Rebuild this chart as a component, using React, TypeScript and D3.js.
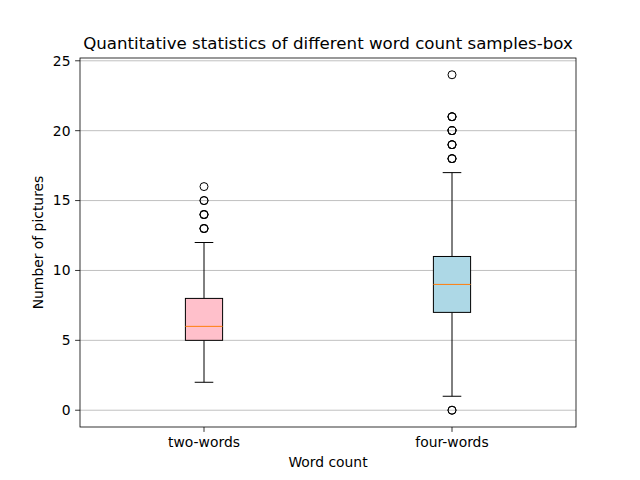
import React, { useRef, useEffect } from 'react';
import * as d3 from 'd3';

const categories = ['two-words', 'four-words'];
const fills = ['pink', 'lightblue'];
// [whiskerLow, q1, median, q3, whiskerHigh]
const boxStats = [
    [2, 5, 6, 8, 12],
    [1, 7, 9, 11, 17],
];
// outliers, repeated values drawn on top of each other
const outliers = [
    [13, 13, 13, 14, 14, 14, 15, 15, 16],
    [18, 18, 18, 19, 19, 19, 20, 20, 20, 21, 21, 21, 24, 0, 0],
];
const yTicks = [0, 5, 10, 15, 20, 25];

const App: React.FC = () => {
    const svgRef = useRef<SVGSVGElement>(null);

    const width = 640;
    const height = 480;
    const margin = { top: 58, right: 64, bottom: 53, left: 80 };

    useEffect(() => {
        if (!svgRef.current) return;
        const svg = d3.select(svgRef.current);
        svg.selectAll('*').remove();

        const innerWidth = width - margin.left - margin.right;
        const innerHeight = height - margin.top - margin.bottom;
        const font = 'DejaVu Sans, sans-serif';
        const fs = '13.89px';

        const xScale = d3.scaleLinear().domain([0.5, 2.5]).range([0, innerWidth]);
        const yScale = d3.scaleLinear().domain([-1.2, 25.2]).range([innerHeight, 0]);

        svg.append('rect').attr('width', width).attr('height', height).attr('fill', '#fff');

        const g = svg.append('g')
            .attr('transform', `translate(${margin.left},${margin.top})`);

        // grid lines
        yTicks.forEach(t => {
            g.append('line')
                .attr('x1', 0)
                .attr('x2', innerWidth)
                .attr('y1', yScale(t))
                .attr('y2', yScale(t))
                .attr('stroke', '#b0b0b0')
                .attr('stroke-width', 0.8);
        });

        const boxW = 0.15;
        const capW = boxW / 2;

        boxStats.forEach((s, i) => {
            const pos = i + 1;
            const [lo, q1, med, q3, hi] = s;
            const cx = xScale(pos);
            const bg = g.append('g');

            // whiskers
            [[lo, q1], [q3, hi]].forEach(([a, b]) => {
                bg.append('line')
                    .attr('x1', cx).attr('x2', cx)
                    .attr('y1', yScale(a)).attr('y2', yScale(b))
                    .attr('stroke', '#000').attr('stroke-width', 1);
            });
            // caps
            [lo, hi].forEach(v => {
                bg.append('line')
                    .attr('x1', xScale(pos - capW / 2)).attr('x2', xScale(pos + capW / 2))
                    .attr('y1', yScale(v)).attr('y2', yScale(v))
                    .attr('stroke', '#000').attr('stroke-width', 1);
            });
            // box
            bg.append('rect')
                .attr('x', xScale(pos - boxW / 2))
                .attr('y', yScale(q3))
                .attr('width', xScale(pos + boxW / 2) - xScale(pos - boxW / 2))
                .attr('height', yScale(q1) - yScale(q3))
                .attr('fill', fills[i])
                .attr('stroke', '#000')
                .attr('stroke-width', 1);
            // median
            bg.append('line')
                .attr('x1', xScale(pos - boxW / 2)).attr('x2', xScale(pos + boxW / 2))
                .attr('y1', yScale(med)).attr('y2', yScale(med))
                .attr('stroke', '#ff7f0e').attr('stroke-width', 1);
            // fliers
            outliers[i].forEach(v => {
                bg.append('circle')
                    .attr('cx', cx)
                    .attr('cy', yScale(v))
                    .attr('r', 4)
                    .attr('fill', 'none')
                    .attr('stroke', '#000')
                    .attr('stroke-width', 1);
            });
        });

        // spines
        g.append('rect')
            .attr('width', innerWidth)
            .attr('height', innerHeight)
            .attr('fill', 'none')
            .attr('stroke', '#000')
            .attr('stroke-width', 0.8);

        // y axis ticks
        yTicks.forEach(t => {
            g.append('line')
                .attr('x1', -4.9).attr('x2', 0)
                .attr('y1', yScale(t)).attr('y2', yScale(t))
                .attr('stroke', '#000').attr('stroke-width', 0.8);
            g.append('text')
                .attr('x', -9.5)
                .attr('y', yScale(t))
                .attr('dy', '0.35em')
                .attr('text-anchor', 'end')
                .attr('font-family', font)
                .attr('font-size', fs)
                .text(t);
        });

        // x axis ticks
        categories.forEach((c, i) => {
            const x = xScale(i + 1);
            g.append('line')
                .attr('x1', x).attr('x2', x)
                .attr('y1', innerHeight).attr('y2', innerHeight + 4.9)
                .attr('stroke', '#000').attr('stroke-width', 0.8);
            g.append('text')
                .attr('x', x)
                .attr('y', innerHeight + 20)
                .attr('text-anchor', 'middle')
                .attr('font-family', font)
                .attr('font-size', fs)
                .text(c);
        });

        // axis labels
        g.append('text')
            .attr('x', innerWidth / 2)
            .attr('y', innerHeight + 40)
            .attr('text-anchor', 'middle')
            .attr('font-family', font)
            .attr('font-size', fs)
            .text('Word count');

        g.append('text')
            .attr('transform', `translate(${-37},${innerHeight / 2}) rotate(-90)`)
            .attr('text-anchor', 'middle')
            .attr('font-family', font)
            .attr('font-size', fs)
            .text('Number of pictures');

        // title
        g.append('text')
            .attr('x', innerWidth / 2)
            .attr('y', -9)
            .attr('text-anchor', 'middle')
            .attr('font-family', font)
            .attr('font-size', '16.67px')
            .text('Quantitative statistics of different word count samples-box');
    }, []);

    return (
        <svg
            ref={svgRef}
            width={width}
            height={height}
            style={{ position: 'absolute', left: 0, top: 0, display: 'block' }}
        />
    );
};

export default App;
